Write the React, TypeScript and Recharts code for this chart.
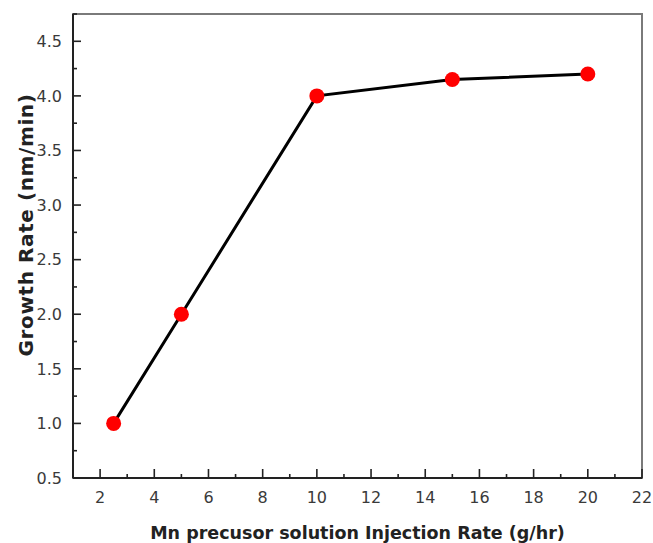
import { Line, LineChart, ReferenceArea, XAxis, YAxis } from "recharts";

const injectionRate = [2.5, 5, 10, 15, 20];
const growthRate = [1.0, 2.0, 4.0, 4.15, 4.2];

const xTicks = [1, 2, 3, 4, 5, 6, 7, 8, 9, 10, 11, 12, 13, 14, 15, 16, 17, 18, 19, 20, 21, 22];
const yTicks = [0.5, 0.75, 1, 1.25, 1.5, 1.75, 2, 2.25, 2.5, 2.75, 3, 3.25, 3.5, 3.75, 4, 4.25, 4.5, 4.75];

const xTitle = "Mn precusor solution Injection Rate (g/hr)";
const yTitle = "Growth Rate (nm/min)";

const data = injectionRate.map((x, i) => ({ x, y: growthRate[i] }));

const FONT = "'DejaVu Sans', sans-serif";
const TICK_COLOR = "#222";

function XTick(props: any) {
  const { x, y, payload } = props;
  const v = payload.value as number;
  const major = v % 2 === 0;
  return (
    <g>
      <line x1={x} x2={x} y1={y} y2={y - (major ? 9 : 4)} stroke={TICK_COLOR} strokeWidth={1.6} />
      {major && (
        <text x={x} y={503} textAnchor="middle" fontSize={16} fontFamily={FONT} fill="#3a3a3a">
          {v}
        </text>
      )}
    </g>
  );
}

function YTick(props: any) {
  const { x, y, payload } = props;
  const v = payload.value as number;
  const major = Math.abs(v * 2 - Math.round(v * 2)) < 1e-6;
  return (
    <g>
      <line x1={x} x2={x + (major ? 8 : 4)} y1={y} y2={y} stroke={TICK_COLOR} strokeWidth={1.6} />
      {major && (
        <text x={62} y={y} dy="0.365em" textAnchor="end" fontSize={16} fontFamily={FONT} fill="#3a3a3a">
          {v.toFixed(1)}
        </text>
      )}
    </g>
  );
}

export default function App() {
  return (
    <div style={{ position: "absolute", left: 0, top: 0, background: "#fff" }}>
      <LineChart width={653} height={543} data={data} margin={{ top: 14, right: 11, bottom: 0, left: 0 }}>
        <ReferenceArea
          x1={1}
          x2={22}
          y1={0.5}
          y2={4.75}
          fill="none"
          stroke="#7a7a7a"
          strokeWidth={2}
          ifOverflow="visible"
        />
        <XAxis
          dataKey="x"
          type="number"
          domain={[1, 22]}
          ticks={xTicks}
          interval={0}
          height={65}
          tickSize={0}
          tickMargin={0}
          tickLine={false}
          axisLine={{ stroke: "#222", strokeWidth: 2 }}
          tick={<XTick />}
          label={{
            content: () => (
              <text
                x={357.5}
                y={539}
                textAnchor="middle"
                fontSize={17.5}
                fontWeight="bold"
                fontFamily={FONT}
                fill="#222"
              >
                {xTitle}
              </text>
            ),
          }}
        />
        <YAxis
          dataKey="y"
          type="number"
          domain={[0.5, 4.75]}
          ticks={yTicks}
          interval={0}
          width={73}
          tickSize={0}
          tickMargin={0}
          tickLine={false}
          axisLine={{ stroke: "#222", strokeWidth: 2 }}
          tick={<YTick />}
          label={{
            content: () => (
              <text
                x={33}
                y={225}
                transform="rotate(-90, 33, 225)"
                textAnchor="middle"
                fontSize={20}
                fontWeight="bold"
                fontFamily={FONT}
                letterSpacing={0.6}
                fill="#222"
              >
                {yTitle}
              </text>
            ),
          }}
        />
        <Line
          dataKey="y"
          type="linear"
          stroke="#000"
          strokeWidth={3}
          dot={{ r: 7.5, fill: "#ff0000", stroke: "none" }}
          activeDot={false}
          isAnimationActive={false}
        />
      </LineChart>
    </div>
  );
}
